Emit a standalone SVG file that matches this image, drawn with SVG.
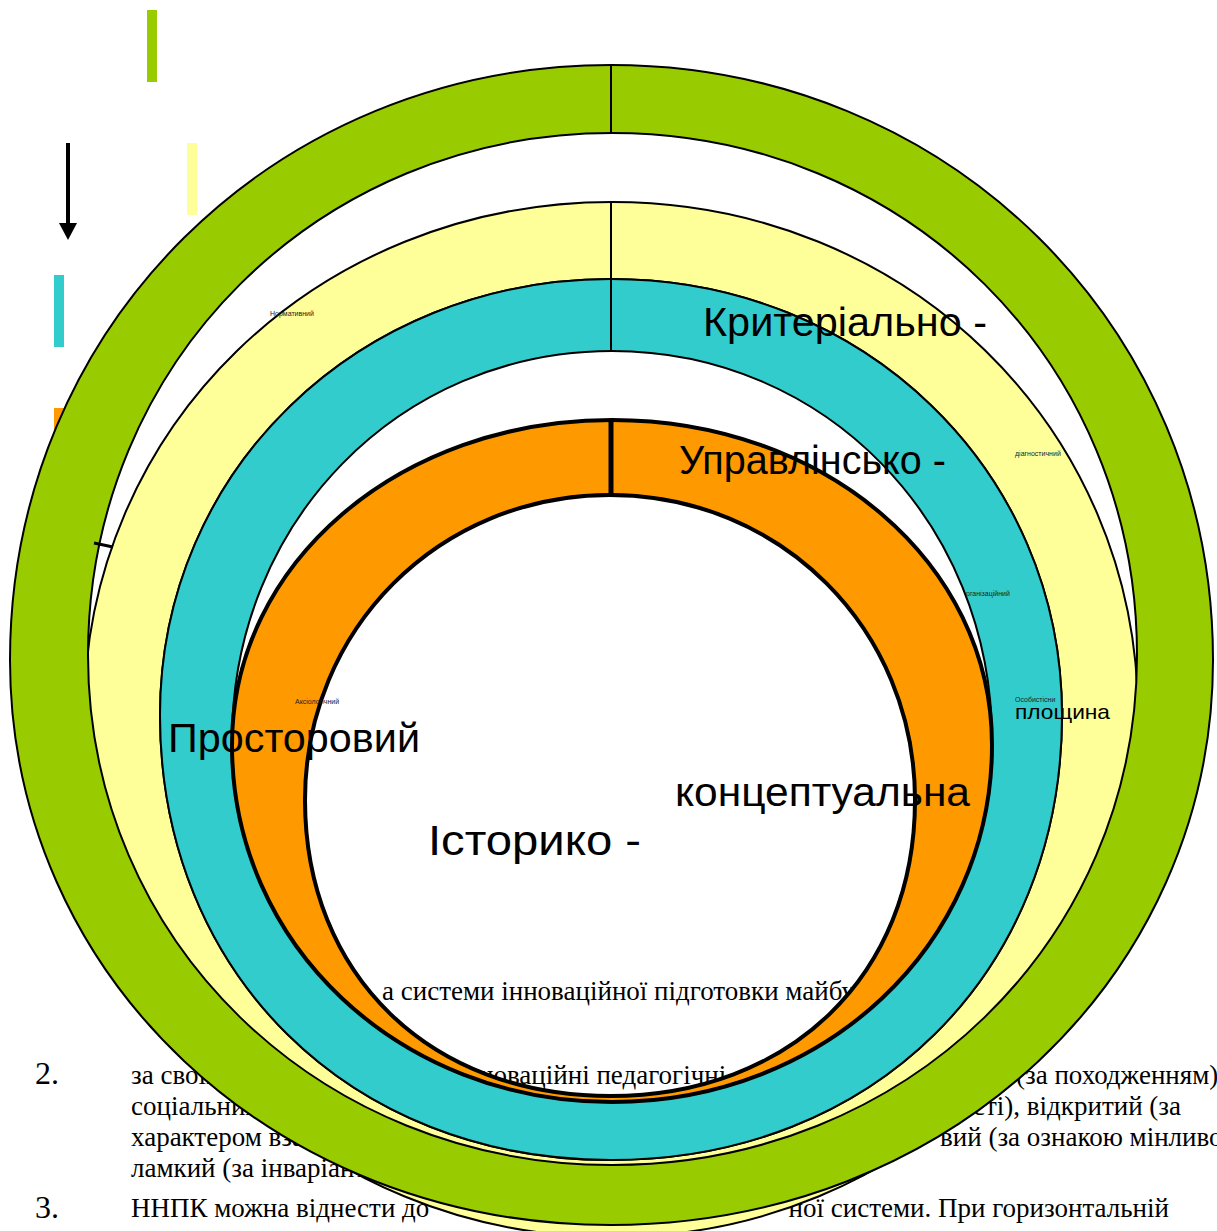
<svg xmlns="http://www.w3.org/2000/svg" width="1217" height="1231" viewBox="0 0 1217 1231">
  <style>
    .ring { stroke: #000; stroke-width: 2; fill-rule: evenodd; stroke-linejoin: round; }
    .core { stroke: #000; stroke-width: 4; fill-rule: evenodd; stroke-linejoin: round; }
    .green { fill: #99CC00; }
    .yellow { fill: #FFFF99; }
    .cyan { fill: #33CCCC; }
    .orange { fill: #FF9900; }
    .body { font-family: "Liberation Serif", "Times New Roman", serif; font-size: 27px; fill: #000; }
    .num { font-family: "Liberation Serif", "Times New Roman", serif; font-size: 32px; fill: #000; }
    .big { font-family: "Liberation Sans", Arial, sans-serif; font-size: 40px; fill: #000; }
    .tiny { font-family: "Liberation Sans", Arial, sans-serif; font-size: 7px; fill: #222; }
    .div { stroke: #000; stroke-width: 2; }
  </style>

  <rect width="1217" height="1231" fill="#fff"/>

  <!-- page text lying under the rings -->
  <g id="page-text">
    <text class="body" x="382" y="1000">а системи інноваційної підготовки майбутніх</text>
    <text class="num" x="35" y="1084">2.</text>
    <text class="body" x="131" y="1084">за своїми</text>
    <text class="body" x="457" y="1084">інноваційні педагогічні</text>
    <text class="body" x="1016" y="1084">(за походженням)</text>
    <text class="body" x="131" y="1115">соціальний</text>
    <text class="body" x="1181" y="1115" text-anchor="end">ності), відкритий (за</text>
    <text class="body" x="131" y="1146">характером взаємодії</text>
    <text class="body" x="940" y="1146">вий (за ознакою мінливості)</text>
    <text class="body" x="131" y="1177">ламкий (за інваріантністю)</text>
    <text class="num" x="35" y="1218">3.</text>
    <text class="body" x="131" y="1217">ННПК можна віднести до</text>
    <text class="body" x="1169" y="1217" text-anchor="end">ної системи. При горизонтальній</text>
  </g>

  <!-- legend -->
  <g id="legend">
    <rect x="147" y="10" width="10" height="72" class="green"/>
    <rect x="187" y="143" width="10" height="72" class="yellow"/>
    <rect x="54" y="275" width="10" height="72" class="cyan"/>
    <rect x="54" y="408" width="10" height="70" class="orange"/>
    <line x1="68" y1="143" x2="68" y2="226" stroke="#000" stroke-width="4"/>
    <polygon points="59,223 77,223 68,240" fill="#000"/>
  </g>

  <!-- yellow ring (sits behind the green one) -->
  <g id="ring-yellow">
    <path class="ring yellow" d="M84,715 C84,427.7 316.3,202 612,202 C906.6,202 1138,427.7 1138,715 C1138,1007.3 906.6,1237 612,1237 C316.3,1237 84,1007.3 84,715 Z M160,715 C160,470.8 358.4,279 611,279 C863.6,279 1062,470.8 1062,715 C1062,973.1 872.6,1160 611,1160 C349.4,1160 160,973.1 160,715 Z"/>
    <line class="div" x1="611" y1="202" x2="611" y2="279"/>
  </g>

  <!-- outer green ring -->
  <g id="ring-green">
    <path class="ring green" d="M10,660 C10,326.8 274.4,65 611,65 C948.1,65 1213,326.8 1213,660 C1213,976.4 948.1,1225 611,1225 C274.4,1225 10,976.4 10,660 Z M88,655 C88,362.7 318.6,133 612,133 C906,133 1137,362.7 1137,655 C1137,940.6 906,1165 612,1165 C318.6,1165 88,940.6 88,655 Z"/>
    <line class="div" x1="611" y1="65" x2="611" y2="133"/>
  </g>

  <!-- cyan ring -->
  <g id="ring-cyan">
    <path class="ring cyan" d="M160,715 C160,470.8 358.4,279 611,279 C863.6,279 1062,470.8 1062,715 C1062,973.1 872.6,1160 611,1160 C349.4,1160 160,973.1 160,715 Z M232,740 C232,522.2 399.2,351 612,351 C824.8,351 992,522.2 992,740 C992,942.7 824.8,1102 612,1102 C399.2,1102 232,942.7 232,740 Z"/>
    <line class="div" x1="611" y1="279" x2="611" y2="351"/>
  </g>

  <!-- inner orange ring -->
  <g id="ring-orange">
    <path class="core orange" d="M232,745 C232,563 399.2,420 612,420 C824.8,420 992,563 992,745 C992,944.9 824.8,1102 612,1102 C399.2,1102 232,944.9 232,745 Z M305,800 C305,629.2 439.2,495 610,495 C780.8,495 915,629.2 915,800 C915,975 790,1096 610,1096 C430,1096 305,975 305,800 Z"/>
    <line x1="611" y1="420" x2="611" y2="495" stroke="#000" stroke-width="5"/>
  </g>

  <g id="connectors">
    <line x1="94" y1="543" x2="113" y2="547" stroke="#000" stroke-width="3"/>
  </g>

  <!-- ring labels -->
  <g id="labels">
    <text class="big" x="703" y="336" textLength="284" lengthAdjust="spacingAndGlyphs">Критеріально -</text>
    <text class="big" x="679" y="474" textLength="267" lengthAdjust="spacingAndGlyphs">Управлінсько -</text>
    <text class="big" x="168" y="752" textLength="252" lengthAdjust="spacingAndGlyphs">Просторовий</text>
    <text class="big" x="675" y="806" textLength="295" lengthAdjust="spacingAndGlyphs">концептуальна</text>
    <text class="big" x="428" y="855" style="font-size:42px" textLength="213" lengthAdjust="spacingAndGlyphs">Історико -</text>
    <text class="big" x="1015" y="719" style="font-size:21px" textLength="95" lengthAdjust="spacingAndGlyphs">площина</text>
    <text class="tiny" x="270" y="316">Нормативний</text>
    <text class="tiny" x="1015" y="456">діагностичний</text>
    <text class="tiny" x="966" y="596">рганізаційний</text>
    <text class="tiny" x="1015" y="702">Особистісни</text>
    <text class="tiny" x="295" y="704">Аксіологічний</text>
  </g>
</svg>
